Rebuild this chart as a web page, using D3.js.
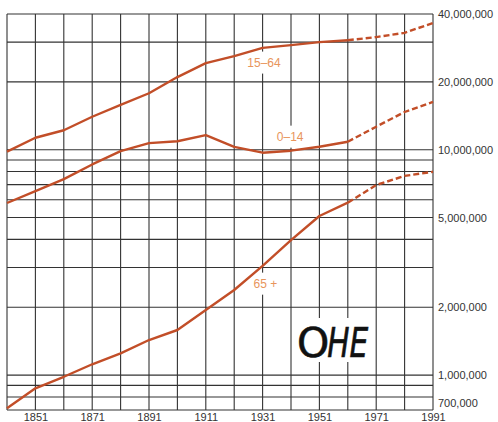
<!DOCTYPE html>
<html>
<head>
<meta charset="utf-8">
<script src="https://cdn.jsdelivr.net/npm/d3@7"></script>
<style>
  html, body { margin: 0; padding: 0; background: #fff; }
  svg { display: block; }
</style>
</head>
<body>
<svg id="chart" width="498" height="422"></svg>
<script>
// ---- data ----
const years = [1841, 1851, 1861, 1871, 1881, 1891, 1901, 1911, 1921, 1931, 1941, 1951, 1961, 1971, 1981, 1991];
const projectionStart = 1961; // dashed after this year
const age15to64 = [9.8e6, 11.3e6, 12.2e6, 14.0e6, 15.8e6, 17.8e6, 21.0e6, 24.2e6, 26.0e6, 28.3e6, 29.1e6, 30.0e6, 30.6e6, 31.6e6, 33.0e6, 36.5e6];
const age0to14  = [5.8e6, 6.55e6, 7.4e6, 8.6e6, 9.85e6, 10.7e6, 10.9e6, 11.6e6, 10.3e6, 9.7e6, 9.9e6, 10.3e6, 10.85e6, 12.65e6, 14.7e6, 16.3e6];
const age65plus = [0.712e6, 0.874e6, 0.983e6, 1.117e6, 1.249e6, 1.431e6, 1.585e6, 1.944e6, 2.385e6, 3.05e6, 3.97e6, 5.08e6, 5.82e6, 6.97e6, 7.65e6, 7.98e6];
const seriesNames = ["15–64", "0–14", "65 +"];
const seriesLabelPos = [[1931.5, 24.4e6], [1940.7, 11.45e6], [1932, 2.55e6]];
const gridYears = [1841, 1851, 1861, 1871, 1881, 1891, 1901, 1911, 1921, 1931, 1941, 1951, 1961, 1971, 1981, 1991];
const gridValues = [7e5, 8e5, 9e5, 1e6, 2e6, 3e6, 4e6, 5e6, 6e6, 7e6, 8e6, 9e6, 1e7, 2e7, 3e7, 4e7];
const xTickLabels = [1851, 1871, 1891, 1911, 1931, 1951, 1971, 1991];
const yTickLabels = [7e5, 1e6, 2e6, 5e6, 1e7, 2e7, 4e7];

const svg = d3.select("#chart");
const x = d3.scaleLinear().domain([1841, 1991]).range([7, 433]);
const y = d3.scaleLog().domain([700000, 40000000]).range([410, 14]);

const gridColor = "#333";
const lineColor = "#c24e28";
const labelColor = "#e8955c";

// grid
const grid = svg.append("g");
grid.selectAll("line.h").data(gridValues).join("line")
  .attr("x1", x(1841)).attr("x2", x(1991))
  .attr("y1", d => y(d)).attr("y2", d => y(d))
  .attr("stroke", gridColor).attr("stroke-width", 1.1);
grid.selectAll("line.v").data(gridYears).join("line")
  .attr("x1", d => x(d)).attr("x2", d => x(d))
  .attr("y1", y(4e7)).attr("y2", y(7e5))
  .attr("stroke", gridColor).attr("stroke-width", 1.1);

// series labels with white knock-out (behind the data lines)
const labels = svg.append("g");
seriesNames.forEach((name, i) => {
  const [lx, lv] = seriesLabelPos[i];
  const t = labels.append("text")
    .attr("x", x(lx)).attr("y", y(lv))
    .attr("text-anchor", "middle").attr("dy", "0.35em")
    .attr("font-family", "Liberation Sans, Arial, sans-serif")
    .attr("font-size", 12).attr("fill", labelColor)
    .text(name);
  const bb = t.node().getBBox();
  labels.insert("rect", "text")
    .attr("x", bb.x - 2).attr("y", bb.y - 4)
    .attr("width", bb.width + 4).attr("height", bb.height + 8)
    .attr("fill", "#fff");
});

// series
const series = [age15to64, age0to14, age65plus];
const line = d3.line().x(d => x(d[0])).y(d => y(d[1]));
const g = svg.append("g");
series.forEach(vals => {
  const pts = years.map((yr, i) => [yr, vals[i]]);
  const solid = pts.filter(p => p[0] <= projectionStart);
  const dashed = pts.filter(p => p[0] >= projectionStart);
  g.append("path").attr("d", line(solid)).attr("fill", "none")
    .attr("stroke", lineColor).attr("stroke-width", 2.4).attr("stroke-linejoin", "round");
  g.append("path").attr("d", line(dashed)).attr("fill", "none")
    .attr("stroke", lineColor).attr("stroke-width", 2.4).attr("stroke-dasharray", "6,3");
});

// OHE logo
const logo = svg.append("g");
logo.append("rect").attr("x", 298).attr("y", 318).attr("width", 74).attr("height", 44).attr("fill", "#fff");
const logoText = logo.append("text")
  .attr("x", 297).attr("y", 357)
  .attr("font-family", "DejaVu Sans, sans-serif")
  .attr("font-size", 41)
  .attr("fill", "#111").attr("stroke", "#111").attr("stroke-width", 0.6);
logoText.append("tspan").text("O");
logoText.append("tspan").attr("dx", -2).attr("font-style", "italic")
  .attr("textLength", 41).attr("lengthAdjust", "spacingAndGlyphs").text("HE");

// axes
const fmt = d3.format(",");
const yAxis = svg.append("g").attr("transform", `translate(${x(1991)},0)`)
  .call(d3.axisRight(y).tickValues(yTickLabels).tickFormat(fmt).tickSize(0).tickPadding(5));
yAxis.select(".domain").remove();
yAxis.selectAll("text")
  .attr("font-family", "Liberation Sans, Arial, sans-serif").attr("font-size", 11).attr("fill", "#333")
  .attr("dy", d => d === 7e5 ? "-0.3em" : "0.32em");

const xAxis = svg.append("g").attr("transform", `translate(0,${y(7e5)})`)
  .call(d3.axisBottom(x).tickValues(xTickLabels).tickFormat(d3.format("d")).tickSize(0).tickPadding(3));
xAxis.select(".domain").remove();
xAxis.selectAll("text")
  .attr("font-family", "Liberation Sans, Arial, sans-serif").attr("font-size", 11).attr("fill", "#333");
</script>
</body>
</html>
